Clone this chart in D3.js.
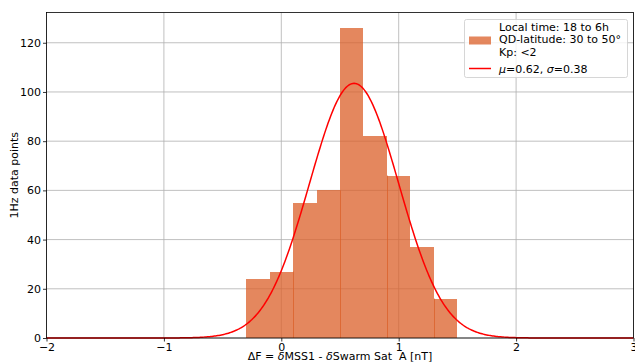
<!DOCTYPE html>
<html><head><meta charset="utf-8">
<script src="https://cdn.jsdelivr.net/npm/d3@7"></script>
<style>body{margin:0;background:#fff}svg{display:block;font-family:"DejaVu Sans",sans-serif}</style>
</head><body>
<script>
const binEdges = [-0.3, -0.1, 0.1, 0.3, 0.5, 0.7, 0.9, 1.1, 1.3, 1.5];
const counts = [24, 27, 55, 60, 126, 82, 66, 37, 16];
const overlapEdges = [0.1, 0.5, 0.9, 1.3];
const mu = 0.62, sigma = 0.38;
const xTicks = [-2, -1, 0, 1, 2, 3];
const yTicks = [0, 20, 40, 60, 80, 100, 120];
const legendLines = ["Local time: 18 to 6h", "QD-latitude: 30 to 50°", "Kp: <2"];

const W = 635, H = 363;
const m = {l: 46.5, r: 1.5, t: 12.5, b: 25};
const svg = d3.select("body").append("svg").attr("width", W).attr("height", H);
const x = d3.scaleLinear().domain([-2, 3]).range([m.l, W - m.r]);
const y = d3.scaleLinear().domain([0, 132.3]).range([H - m.b, m.t]);

// grid
const g = svg.append("g");
g.selectAll(".gx").data(xTicks).enter().append("line")
  .attr("x1", d => x(d)).attr("x2", d => x(d)).attr("y1", y(0)).attr("y2", m.t)
  .attr("stroke", "#b0b0b0").attr("stroke-width", 0.8);
g.selectAll(".gy").data(yTicks).enter().append("line")
  .attr("x1", m.l).attr("x2", W - m.r).attr("y1", d => y(d)).attr("y2", d => y(d))
  .attr("stroke", "#b0b0b0").attr("stroke-width", 0.8);

// bars
const barFill = "#DB5F28", barOp = 0.75;
const bars = counts.map((c, i) => ({x0: binEdges[i], x1: binEdges[i + 1], c}));
svg.selectAll(".bar").data(bars).enter().append("rect")
  .attr("x", d => Math.round(x(d.x0))).attr("width", d => Math.round(x(d.x1)) - Math.round(x(d.x0)))
  .attr("y", d => y(d.c)).attr("height", d => y(0) - y(d.c))
  .attr("fill", barFill).attr("fill-opacity", barOp).attr("shape-rendering", "crispEdges");
// overlap edges
svg.selectAll(".ov").data(overlapEdges).enter().append("line")
  .attr("x1", d => Math.round(x(d)) + 0.5).attr("x2", d => Math.round(x(d)) + 0.5).attr("y1", y(0))
  .attr("y2", d => { const i = binEdges.findIndex(e => Math.abs(e - d) < 1e-9); return y(Math.min(counts[i - 1], counts[i])); })
  .attr("stroke", barFill).attr("stroke-opacity", barOp).attr("stroke-width", 1);

// gaussian
const total = d3.sum(counts), bw = binEdges[1] - binEdges[0];
const xs = d3.range(0, 501).map(i => -2 + i * 0.01);
const line = d3.line().x(d => x(d)).y(d => y(total * bw / (sigma * Math.sqrt(2 * Math.PI)) * Math.exp(-0.5 * ((d - mu) / sigma) ** 2)));
svg.append("path").datum(xs).attr("d", line).attr("fill", "none").attr("stroke", "red").attr("stroke-width", 1.5);

// axes
const ax = svg.append("g").attr("transform", `translate(0,${y(0)})`)
  .call(d3.axisBottom(x).tickValues(xTicks).tickSize(3.5).tickPadding(2).tickFormat(d => d < 0 ? "\u2212" + Math.abs(d) : d));
const ay = svg.append("g").attr("transform", `translate(${m.l},0)`)
  .call(d3.axisLeft(y).tickValues(yTicks).tickSize(3.5).tickPadding(2));
[ax, ay].forEach(a => { a.select(".domain").remove(); a.selectAll("text").attr("font-size", 11).attr("fill", "#000").attr("font-family", "DejaVu Sans"); a.selectAll("line").attr("stroke", "#000").attr("stroke-width", 0.8); });

// frame
svg.append("rect").attr("x", m.l).attr("y", m.t).attr("width", W - m.r - m.l).attr("height", y(0) - m.t)
  .attr("fill", "none").attr("stroke", "#000").attr("stroke-width", 0.8);

// labels
svg.append("text").attr("x", (m.l + W - m.r) / 2).attr("y", 360).attr("text-anchor", "middle").attr("font-size", 11)
  .style("white-space", "pre")
  .html('ΔF = <tspan font-style="italic">δ</tspan>MSS1 - <tspan font-style="italic">δ</tspan>Swarm Sat  A [nT]');
svg.append("text").attr("transform", `translate(18,${(m.t + y(0)) / 2}) rotate(-90)`).attr("text-anchor", "middle").attr("font-size", 11)
  .text("1Hz data points");

// legend
const lg = svg.append("g");
lg.append("rect").attr("x", 464.5).attr("y", 19.5).attr("width", 163).attr("height", 58).attr("rx", 2)
  .attr("fill", "#fff").attr("fill-opacity", 0.8).attr("stroke", "#ccc").attr("stroke-width", 0.8);
lg.selectAll(".lt").data(legendLines).enter().append("text")
  .attr("x", 499).attr("y", (d, i) => 30.5 + i * 12.5).attr("font-size", 11).text(d => d);
lg.append("rect").attr("x", 469).attr("y", 36.5).attr("width", 22).attr("height", 8).attr("fill", barFill).attr("fill-opacity", barOp);
lg.append("line").attr("x1", 469).attr("x2", 491).attr("y1", 68.5).attr("y2", 68.5).attr("stroke", "red").attr("stroke-width", 1.5);
lg.append("text").attr("x", 499).attr("y", 72.5).attr("font-size", 11)
  .html('<tspan font-style="italic">μ</tspan>=0.62, <tspan font-style="italic">σ</tspan>=0.38');
</script>
</body></html>
